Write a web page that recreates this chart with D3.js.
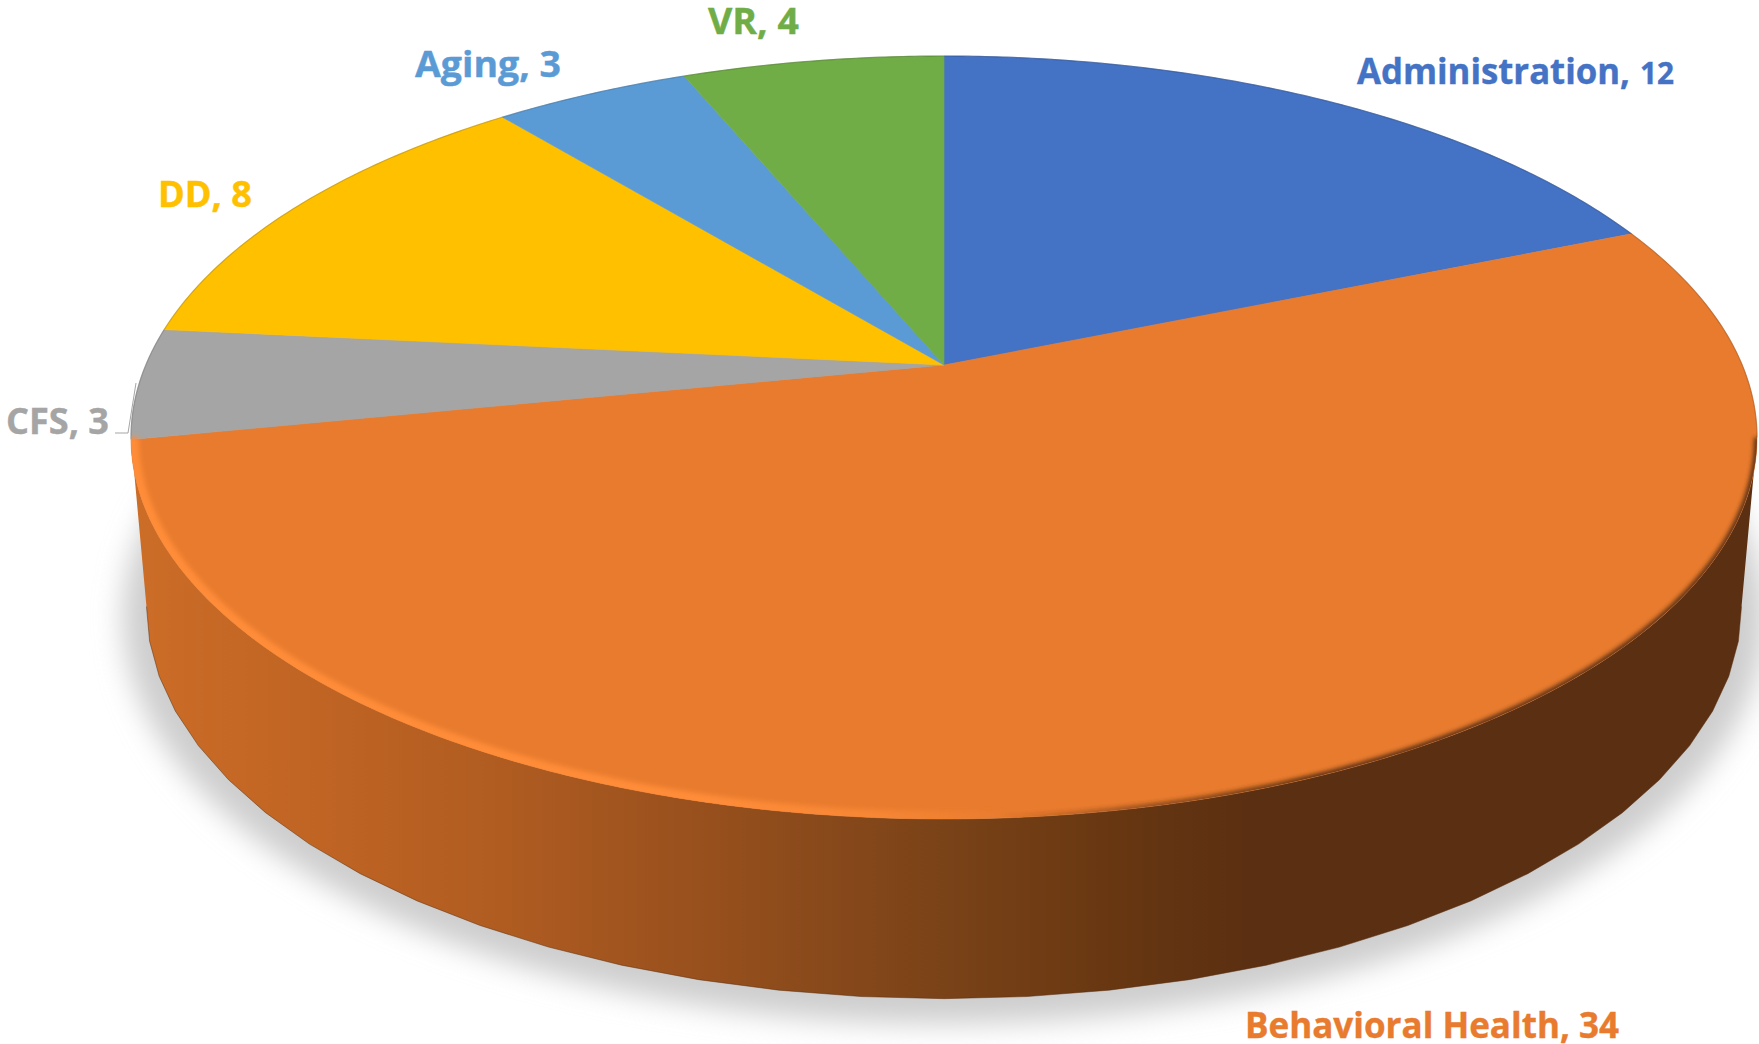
<!DOCTYPE html>
<html>
<head>
  <meta charset="utf-8">
  <title>Staff by division</title>
  <script src="https://d3js.org/d3.v7.min.js"></script>
  <style>
    html, body { margin: 0; background: #fff; }
    svg { display: block; }
    text { font-family: "Open Sans", "Noto Sans", sans-serif; font-weight: 700; }
  </style>
</head>
<body>
<script>
  // data, clockwise from 12 o'clock
  var categories = ["Administration", "Behavioral Health", "CFS", "DD", "Aging", "VR"];
  var values = [12, 34, 3, 8, 3, 4];
  var colors = ["#4472C4", "#E87B2E", "#A5A5A5", "#FFC000", "#5B9BD5", "#70AD47"];

  // label placement: left edge, baseline, width
  var labelX = [1357, 1245, 6, 158, 415, 708];
  var labelY = [84, 1038, 434, 207, 77, 34];
  var labelW = [273, 374, 103, 94, 146, 91];
  // Administration has its number set apart and smaller
  var valueX = [1640, null, null, null, null, null];
  var valueW = [34, null, null, null, null, null];

  var width = 1759, height = 1044;
  var fontSize = 36;

  // perspective disc: k is the tilt, top and bottom are the two faces of the pie
  var k = 0.19;
  var cx = 944;
  var topFace = {A: 798.2, B: 367.7, y0: 365};
  var botFace = {A: 783, B: 378, y0: 532};
  var floorFace = {A: 806, B: 392, y0: 540};
  var sideFrom = Math.acos(-k), sideTo = 2 * Math.PI - Math.acos(-k);

  function project(a, face) {
    var X = Math.sin(a), Y = -Math.cos(a), d = 1 - k * Y;
    return [cx + face.A * X / d, face.y0 + face.B * Y / d];
  }
  function arcPoints(a0, a1, face, step) {
    var n = Math.max(1, Math.round(Math.abs(a1 - a0) / step));
    return d3.range(n + 1).map(function(i) { return project(a0 + (a1 - a0) * i / n, face); });
  }

  var line = d3.line();
  var fine = Math.PI / 360, facet = Math.PI / 36;

  var svg = d3.select("body").append("svg").attr("width", width).attr("height", height);
  var defs = svg.append("defs");

  function blur(id, sd) {
    defs.append("filter").attr("id", id)
      .attr("x", "-10%").attr("y", "-10%").attr("width", "120%").attr("height", "120%")
      .append("feGaussianBlur").attr("stdDeviation", sd);
  }
  blur("shadowBlur", 14);
  blur("lightBlur", 2.5);
  blur("darkBlur", 2);

  function hGradient(id, x0, x1, stops) {
    var g = defs.append("linearGradient").attr("id", id)
      .attr("gradientUnits", "userSpaceOnUse")
      .attr("x1", x0).attr("x2", x1).attr("y1", 0).attr("y2", 0);
    stops.forEach(function(s) {
      g.append("stop").attr("offset", (s[0] - x0) / (x1 - x0))
        .attr("stop-color", s[1]).attr("stop-opacity", s[2] === undefined ? 1 : s[2]);
    });
  }
  // side wall shading runs left to right
  hGradient("sideGrad", 147, 1760, [
    [147, "#CB6C27"], [300, "#C16524"], [500, "#B05C21"], [700, "#98501D"],
    [900, "#7F4519"], [1100, "#693812"], [1250, "#5B2F11"], [1760, "#5B2F11"]]);
  // rim: bright on the lit side, dark on the far side
  hGradient("lightGrad", 131, 1757, [
    [131, "#FF8C38", 1], [700, "#FF8C38", 1], [880, "#FF8C38", 0.65], [1010, "#FF8C38", 0], [1757, "#FF8C38", 0]]);
  hGradient("darkGrad", 131, 1757, [
    [131, "#5E3112", 0], [1000, "#5E3112", 0], [1140, "#5E3112", 0.6], [1320, "#5E3112", 1], [1757, "#5E3112", 1]]);

  defs.append("clipPath").attr("id", "topClip").append("path")
    .attr("d", line(arcPoints(0, 2 * Math.PI, topFace, fine)) + "Z");

  // shadow on the floor
  svg.append("path")
    .attr("d", line(arcPoints(0, 2 * Math.PI, floorFace, fine)) + "Z")
    .attr("fill", "#cecece")
    .attr("filter", "url(#shadowBlur)");

  // side wall
  var botPts = arcPoints(sideTo, sideFrom, botFace, facet);
  svg.append("path")
    .attr("d", line(arcPoints(sideFrom, sideTo, topFace, fine).concat(botPts)) + "Z")
    .attr("fill", "url(#sideGrad)");
  svg.append("path")
    .attr("d", line(botPts))
    .attr("fill", "none")
    .attr("stroke", "#5a2d0e")
    .attr("stroke-opacity", 0.5)
    .attr("stroke-width", 1);

  // slices on the top face
  var arcs = d3.pie().sort(null)(values);
  var apex = [cx, topFace.y0];

  svg.append("g").selectAll("path")
    .data(arcs)
    .enter()
    .append("path")
    .attr("d", function(d) {
      return line([apex].concat(arcPoints(d.startAngle, d.endAngle, topFace, fine))) + "Z";
    })
    .attr("fill", function(d, i) { return colors[i]; })
    .attr("stroke", function(d, i) { return colors[i]; })
    .attr("stroke-width", 0.6);

  // thin darker line round the far edge of the slices, stops where the side wall starts
  svg.append("g").selectAll("path")
    .data(arcs)
    .enter()
    .append("path")
    .attr("d", function(d) {
      var a0 = d.startAngle, a1 = d.endAngle;
      if (a0 < sideFrom && a1 > sideFrom) a1 = sideFrom;
      return line(arcPoints(a0, a1, topFace, fine));
    })
    .attr("fill", "none")
    .attr("stroke", function(d, i) { return d3.color(colors[i]).darker(1.3); })
    .attr("stroke-opacity", 0.45)
    .attr("stroke-width", 1.2);

  // bevel along the near edge
  var rim = svg.append("g").attr("clip-path", "url(#topClip)");
  var rimLine = line(arcPoints(sideFrom, sideTo, topFace, fine));
  rim.append("path")
    .attr("d", rimLine)
    .attr("fill", "none")
    .attr("stroke", "url(#lightGrad)")
    .attr("stroke-width", 16)
    .attr("filter", "url(#lightBlur)");
  rim.append("path")
    .attr("d", rimLine)
    .attr("fill", "none")
    .attr("stroke", "url(#darkGrad)")
    .attr("stroke-width", 6)
    .attr("filter", "url(#darkBlur)");

  // labels
  var labels = svg.append("g")
    .attr("font-size", fontSize)
    .attr("stroke-width", 0.4);

  labels.selectAll("text.name")
    .data(categories)
    .enter()
    .append("text")
    .attr("class", "name")
    .attr("x", function(d, i) { return labelX[i]; })
    .attr("y", function(d, i) { return labelY[i]; })
    .attr("fill", function(d, i) { return colors[i]; })
    .attr("stroke", function(d, i) { return colors[i]; })
    .attr("textLength", function(d, i) { return labelW[i]; })
    .attr("lengthAdjust", "spacingAndGlyphs")
    .text(function(d, i) { return valueX[i] === null ? d + ", " + values[i] : d + ","; });

  labels.append("text")
    .attr("x", valueX[0])
    .attr("y", labelY[0])
    .attr("font-size", 31)
    .attr("fill", colors[0])
    .attr("stroke", colors[0])
    .attr("textLength", valueW[0])
    .attr("lengthAdjust", "spacingAndGlyphs")
    .text(values[0]);

  // leader line for CFS
  svg.append("path")
    .attr("d", "M115,433H128L136,383")
    .attr("fill", "none")
    .attr("stroke", "#a5a5a5")
    .attr("stroke-width", 1);
</script>
</body>
</html>
